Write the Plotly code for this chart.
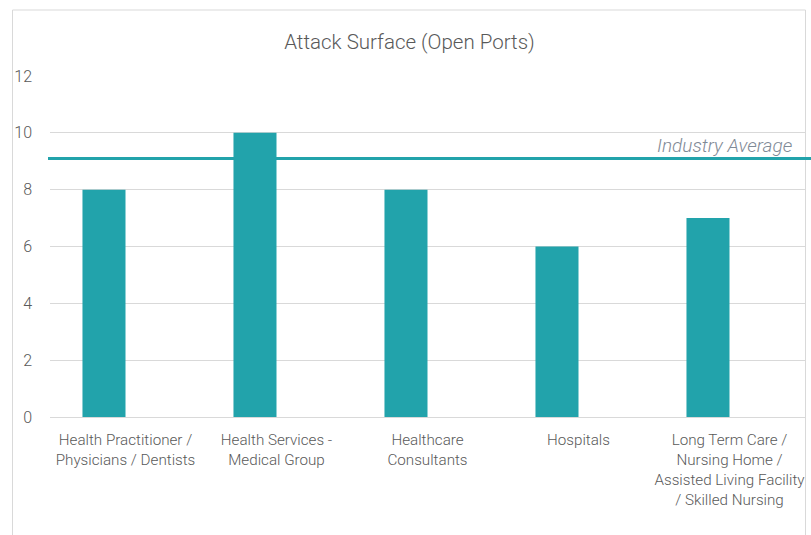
import plotly.graph_objects as go

categories = [
    "Health Practitioner /<br>Physicians / Dentists",
    "Health Services -<br>Medical Group",
    "Healthcare<br>Consultants",
    "Hospitals",
    "Long Term Care /<br>Nursing Home /<br>Assisted Living Facility<br>/ Skilled Nursing",
]
open_ports = [8, 10, 8, 6, 7]
industry_average = 9.1
y_ticks = [0, 2, 4, 6, 8, 10, 12]

TEAL = "#22A3AB"
GRAY_TXT = "#595959"

W, H = 811, 535
L, R, T, B = 50, 805, 76, 417

fig = go.Figure()
fig.add_trace(go.Bar(
    x=categories, y=open_ports,
    marker=dict(color=TEAL, line=dict(width=0)),
    width=0.285, offset=-0.285,
    hoverinfo="y",
))

fig.update_layout(
    width=W, height=H,
    margin=dict(l=L, r=W - R, t=T, b=H - B),
    paper_bgcolor="white", plot_bgcolor="white",
    showlegend=False,
    font=dict(family="Roboto", color=GRAY_TXT, weight=300),
    title=dict(text="Attack Surface (Open Ports)", x=409.5 / W, xanchor="center",
               xref="container", y=1 - 42 / H, yanchor="middle", yref="container",
               font=dict(size=20.5, color=GRAY_TXT, family="Roboto", weight=300)),
    xaxis=dict(showgrid=False, showline=True, linecolor="#D9D9D9", linewidth=1,
               ticks="", tickfont=dict(size=15.2, color=GRAY_TXT, weight=300),
               ticklabelstandoff=9, range=[-0.5, 4.5], fixedrange=True),
    yaxis=dict(range=[0, 12], tickvals=y_ticks, showgrid=True, gridcolor="#D9D9D9",
               gridwidth=1, zeroline=False, showline=False, ticks="",
               tickfont=dict(size=16, color=GRAY_TXT, weight=300),
               ticklabelstandoff=17, fixedrange=True),
)

# chart border
fig.add_shape(type="rect", xref="paper", yref="paper",
              x0=(12.5 - L) / (R - L), x1=(805.5 - L) / (R - L),
              y0=(B - 545) / (B - T), y1=(B - 10) / (B - T),
              line=dict(color="#D9D9D9", width=1), fillcolor="rgba(0,0,0,0)", layer="below")

# industry average line
fig.add_shape(type="line", xref="paper", yref="y",
              x0=(48 - L) / (R - L), x1=(811 - L) / (R - L),
              y0=industry_average, y1=industry_average,
              line=dict(color=TEAL, width=3))
fig.add_annotation(text="<i>Industry Average</i>", xref="paper", yref="y",
                   x=(794 - L) / (R - L), y=industry_average, xanchor="right",
                   yanchor="bottom", yshift=-1, showarrow=False,
                   font=dict(size=19, color="#7F8A96", family="Roboto", weight=300))

fig.write_html("out.html")
